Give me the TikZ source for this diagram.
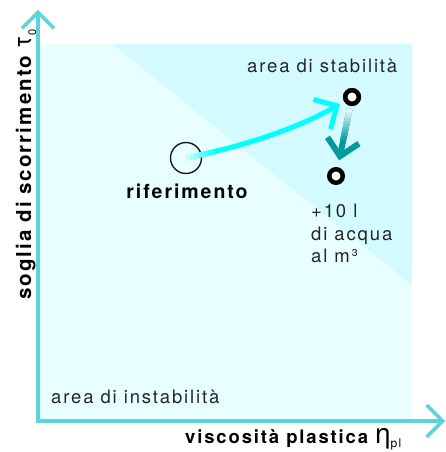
\documentclass[tikz,border=0pt]{standalone}
\usepackage{fontspec}
\setmainfont{TeX Gyre Heros}[LetterSpace=10]
\usetikzlibrary{arrows.meta,calc}
\definecolor{bglight}{HTML}{E8FFFF}
\definecolor{bgdark}{HTML}{D2FAFF}
\definecolor{axiscol}{HTML}{5CD4D8}
\definecolor{arrcyan}{HTML}{00FFFF}
\definecolor{arrteal}{HTML}{00999C}
\definecolor{txtgray}{HTML}{262626}
\begin{document}
\begin{tikzpicture}[x=1pt,y=-1pt,
  axisline/.style={draw=axiscol,line width=3.5pt,line join=miter,
    {Straight Barb[length=16pt,width=32pt]}-{Straight Barb[length=16pt,width=32pt]}},
  refcircle/.style={circle,draw=black!90,line width=1.4pt,minimum size=31pt,inner sep=0pt},
  dot/.style={circle,draw=black,fill=white,line width=4.5pt,minimum size=13.5pt,inner sep=0pt},
  cyanline/.style={draw=arrcyan,line width=5pt,shorten >=5pt},
  tealline/.style={draw=arrteal,line width=6pt,shorten <=3pt,shorten >=7pt},
  lbl/.style={font=\fontsize{18.5}{22.5}\selectfont,text=txtgray,inner sep=0pt},
  boldlbl/.style={font=\fontsize{19.5}{22}\selectfont\bfseries,text=black,inner sep=0pt},
  axislbl/.style={font=\fontsize{20.5}{22}\selectfont\bfseries,text=black,inner sep=0pt},
  xaxislbl/.style={font=\fontsize{18.5}{22}\selectfont\bfseries,text=black,inner sep=0pt}]
\useasboundingbox (0,0) rectangle (446,452);
% areas
\fill[bglight] (38,44) rectangle (412,421);
\fill[bgdark] (112,44) -- (412,44) -- (412,285) -- cycle;
% axes
\draw[axisline] (38,10) -- (38,421) -- (445,421);
% points
\node[refcircle] (ref) at (186,158) {};
\node[dot] (stab) at (352,97) {};
\node[dot] (water) at (336,176) {};
% cyan arrow
\coordinate (c1) at (249,145);
\coordinate (c2) at (300,127);
\draw[cyanline,-{Straight Barb[length=17pt,width=34pt]}] (ref.center) .. controls (c1) and (c2) .. (stab);
\foreach \k [evaluate=\k as \xa using 184+3*\k, evaluate=\k as \xb using 187.2+3*\k, evaluate=\k as \c using int(15+8.5*\k)] in {0,...,10} {
  \begin{scope}
    \clip (\xa,0) rectangle (\xb,452);
    \draw[cyanline,draw=arrcyan!\c!white] (ref.center) .. controls (c1) and (c2) .. (stab);
  \end{scope}
}
% teal arrow
\draw[tealline,-{Straight Barb[length=16pt,width=32pt]}] (stab) -- (water);
\foreach \k [evaluate=\k as \ya using 106+3*\k, evaluate=\k as \yb using 109.2+3*\k, evaluate=\k as \c using int(9*\k)] in {0,...,10} {
  \begin{scope}
    \clip (300,\ya) rectangle (400,\yb);
    \draw[tealline,draw=arrteal!\c!white] (stab) -- (water);
  \end{scope}
}
\node[dot] at (stab) {};
% labels
\node[lbl,anchor=base west] (stabtxt) at (247,73) {area di stabilità};
\node[lbl,anchor=base west] (instabtxt) at (51,403) {area di instabilità};
\node[boldlbl,anchor=base] (reftxt) at (187,198) {riferimento};
\node[lbl,anchor=north west,align=left] (watertxt) at (311,204) {+10 l\\di acqua\\al m³};
\node[xaxislbl,anchor=base west] (xlab) at (185,443) {viscosità plastica {\mdseries\fontsize{28}{28}\selectfont η}\raisebox{-0.25em}{\mdseries\fontsize{12}{12}\selectfont pl}};
\node[axislbl,rotate=90,anchor=base west] (ylab) at (31,300) {soglia di scorrimento {\mdseries\fontsize{25}{25}\selectfont τ}\raisebox{-0.25em}{\mdseries\fontsize{11}{11}\selectfont 0}};
\end{tikzpicture}
\end{document}
